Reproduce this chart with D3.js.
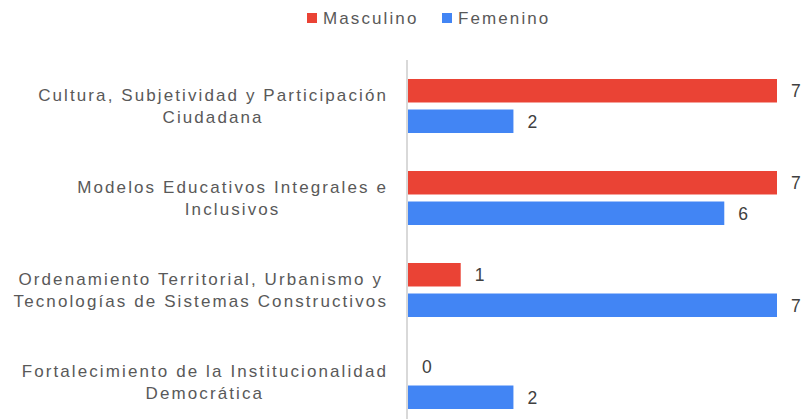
<!DOCTYPE html>
<html>
<head>
<meta charset="utf-8">
<script src="https://cdn.jsdelivr.net/npm/d3@7"></script>
<style>
  body { margin: 0; background: #fff; }
  svg text { font-family: "Liberation Sans", Arial, sans-serif; }
</style>
</head>
<body>
<div id="chart"></div>
<script>

// categories, each one split into its wrapped lines
var categories = [
	["Cultura, Subjetividad y Participación", "Ciudadana"],
	["Modelos Educativos Integrales e", "Inclusivos"],
	["Ordenamiento Territorial, Urbanismo y", "Tecnologías de Sistemas Constructivos"],
	["Fortalecimiento de la Institucionalidad", "Democrática"]
];

var series = ["Masculino", "Femenino"];
var seriesColors = ["#EA4335", "#4285F4"];

var masculino = [7, 7, 1, 0];
var femenino  = [2, 6, 7, 2];

var width = 804, height = 419;

var keys = categories.map(function(c) { return c.join(" "); });
var values = [masculino, femenino];

var svg = d3.select('#chart')
			.append('svg')
			.attr('width', width)
			.attr('height', height);

var x = d3.scaleLinear()
		  .domain([0, 7])
		  .range([408, 777]);

var y0 = d3.scaleBand()
		   .domain(keys)
		   .range([60, 428])
		   .paddingInner(0.413)
		   .paddingOuter(0.2065);

var y1 = d3.scaleBand()
		   .domain(series)
		   .range([0, y0.bandwidth()])
		   .paddingInner(0.23);

var color = d3.scaleOrdinal()
			  .domain(series)
			  .range(seriesColors);

// vertical axis line
svg.append('line')
   .attr('x1', x(0) - 1).attr('x2', x(0) - 1)
   .attr('y1', 60).attr('y2', height)
   .attr('stroke', '#d9d9d9')
   .attr('stroke-width', 2);

// bars
var groups = svg.selectAll('g.grp')
				.data(keys)
				.enter()
				.append('g')
				.attr('class', 'grp')
				.attr('transform', function(d) { return 'translate(0,' + y0(d) + ')'; });

groups.selectAll('rect')
	  .data(function(d, i) {
	  	return series.map(function(s, j) { return { s: s, v: values[j][i] }; });
	  })
	  .enter()
	  .append('rect')
	  .attr('x', x(0))
	  .attr('y', function(d) { return y1(d.s); })
	  .attr('width', function(d) { return x(d.v) - x(0); })
	  .attr('height', y1.bandwidth())
	  .attr('fill', function(d) { return color(d.s); });

groups.selectAll('text.val')
	  .data(function(d, i) {
	  	return series.map(function(s, j) { return { s: s, v: values[j][i] }; });
	  })
	  .enter()
	  .append('text')
	  .attr('class', 'val')
	  .attr('x', function(d) { return x(d.v) + 14; })
	  .attr('y', function(d) { return y1(d.s) + y1.bandwidth() / 2; })
	  .attr('dy', '0.36em')
	  .attr('font-size', 17.5)
	  .attr('fill', '#404040')
	  .text(function(d) { return d.v; });

// category labels: lines centred on each other, widest line ends at 388
var labelRight = 388;
categories.forEach(function(lines, i) {
	var cy = y0(keys[i]) + y0.bandwidth() / 2;
	var g = svg.append('g');
	var texts = lines.map(function(line, k) {
		return g.append('text')
				.attr('y', cy + (k - (lines.length - 1) / 2) * 22)
				.attr('dy', '0.36em')
				.attr('font-size', 17)
				.attr('letter-spacing', 2.1)
				.attr('fill', '#595959')
				.attr('text-anchor', 'middle')
				.text(line);
	});
	var maxW = d3.max(texts, function(t) { return t.node().getComputedTextLength(); });
	texts.forEach(function(t) { t.attr('x', labelRight - maxW / 2); });
});

// legend
var legend = svg.append('g');
var legendX = [307, 442];
series.forEach(function(s, i) {
	legend.append('rect')
		  .attr('x', legendX[i])
		  .attr('y', 13)
		  .attr('width', 10)
		  .attr('height', 10)
		  .attr('fill', color(s));
	legend.append('text')
		  .attr('x', legendX[i] + 16)
		  .attr('y', 18)
		  .attr('dy', '0.36em')
		  .attr('font-size', 17)
		  .attr('letter-spacing', 2.1)
		  .attr('fill', '#595959')
		  .text(s);
});

</script>
</body>
</html>
